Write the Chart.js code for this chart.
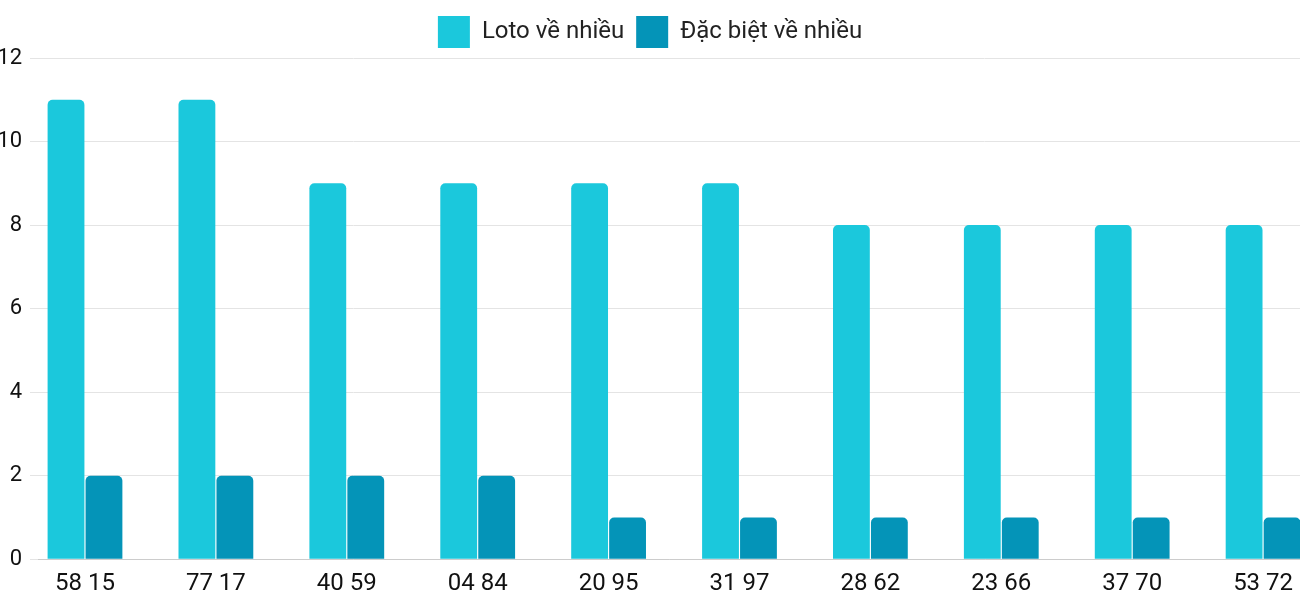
<!DOCTYPE html>
<html><head><meta charset="utf-8">
<script src="https://cdn.jsdelivr.net/npm/chart.js@4"></script>
<style>html,body{margin:0;padding:0;background:#fff}#w{width:1300px;height:600px}</style>
</head><body><div id="w"><canvas id="c"></canvas></div>
<script>
const categories = ["58 15","77 17","40 59","04 84","20 95","31 97","28 62","23 66","37 70","53 72"];
const lotoValues = [11,11,9,9,9,9,8,8,8,8];
const dbValues = [2,2,2,2,1,1,1,1,1,1];
const yTicks = [0,2,4,6,8,10,12];
const toPts = a => a.map((v,i)=>({x:i,y:v}));
new Chart(document.getElementById('c'),{
  type:'bar',
  data:{datasets:[
    {label:'Loto về nhiều',data:toPts(lotoValues),backgroundColor:'#1bc8dc',borderRadius:{topLeft:5,topRight:5},borderSkipped:'bottom',categoryPercentage:0.58,barPercentage:0.97},
    {label:'Đặc biệt về nhiều',data:toPts(dbValues),backgroundColor:'#0494b8',borderRadius:{topLeft:5,topRight:5},borderSkipped:'bottom',categoryPercentage:0.58,barPercentage:0.97}
  ]},
  options:{
    responsive:true,maintainAspectRatio:false,animation:false,
    layout:{padding:{left:0,right:0,top:4,bottom:0}},
    plugins:{legend:{labels:{font:{family:'Roboto',size:24},color:'#222',boxWidth:32,boxHeight:32,padding:12}},tooltip:{enabled:false}},
    scales:{
      x:{type:'linear',offset:false,min:-0.359,max:9.282,
        afterBuildTicks:s=>{s.ticks=categories.map((c,i)=>({value:i}));},
        grid:{display:false},border:{color:'#ccc'},
        ticks:{autoSkip:false,maxRotation:0,padding:2,font:{family:'Roboto',size:24},color:'#111',
          callback:v=>categories[v]!==undefined?categories[v]:''}},
      y:{min:0,max:12,afterBuildTicks:s=>{s.ticks=yTicks.map(v=>({value:v}));},
        afterFit:s=>{s.width=38;},
        grid:{color:'#e4e4e4'},border:{display:false},
        ticks:{font:{family:'Roboto',size:22},color:'#111',padding:8}}
    }
  }
});
</script></body></html>
